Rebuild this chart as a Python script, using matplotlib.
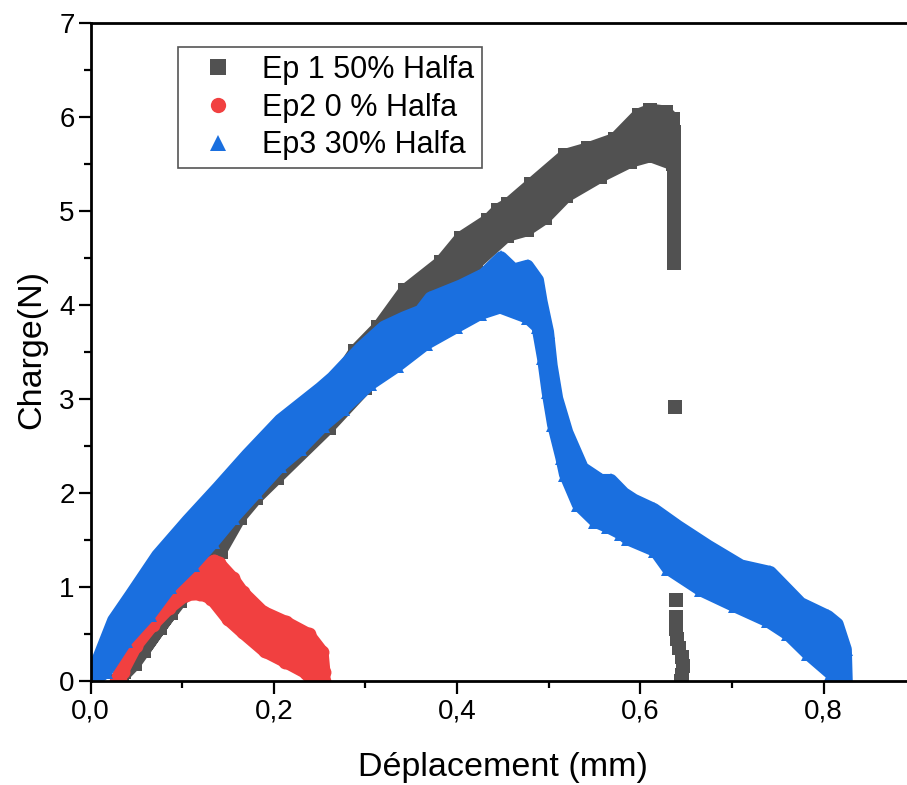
import numpy as np
import matplotlib
matplotlib.use("Agg")
import matplotlib.pyplot as plt
from matplotlib.ticker import MultipleLocator, FuncFormatter
from matplotlib.lines import Line2D

plt.rcParams['font.family'] = ['Liberation Sans', 'DejaVu Sans']

# Ep 1 50% Halfa: upper / lower edge of the dense measurement band
ep1_up_x = [0.030, 0.048, 0.088, 0.128, 0.168, 0.194, 0.230, 0.262, 0.289, 0.314, 0.343, 0.382,
            0.404, 0.434, 0.445, 0.456, 0.481, 0.518, 0.543, 0.572, 0.598, 0.611, 0.628, 0.636]
ep1_up_y = [0.00, 0.18, 0.73, 1.33, 1.98, 2.50, 2.88, 3.12, 3.52, 3.77, 4.16, 4.46,
            4.72, 4.91, 5.02, 5.08, 5.29, 5.60, 5.67, 5.77, 6.03, 6.08, 6.06, 5.98]
ep1_lo_x = [0.034, 0.036, 0.058, 0.076, 0.098, 0.142, 0.163, 0.181, 0.203, 0.260, 0.300, 0.350,
            0.390, 0.421, 0.454, 0.476, 0.496, 0.519, 0.556, 0.589, 0.611, 0.636]
ep1_lo_y = [0.00, 0.10, 0.32, 0.57, 0.85, 1.38, 1.74, 1.95, 2.16, 2.70, 3.12, 3.62,
            4.04, 4.45, 4.74, 4.80, 4.93, 5.16, 5.37, 5.53, 5.59, 5.50]
# Ep 1 after rupture
ep1_tail_x = [0.637, 0.637, 0.637, 0.637, 0.637, 0.637, 0.637, 0.637, 0.637, 0.637, 0.637, 0.637,
              0.638, 0.639, 0.639, 0.639, 0.640, 0.642, 0.645, 0.647, 0.646, 0.644]
ep1_tail_y = [5.85, 5.72, 5.59, 5.46, 5.33, 5.20, 5.07, 4.94, 4.81, 4.68, 4.55, 4.45,
              2.92, 0.87, 0.68, 0.56, 0.45, 0.35, 0.26, 0.16, 0.07, 0.00]

# Ep2 0 % Halfa
ep2_up_x = [0.028, 0.036, 0.048, 0.064, 0.082, 0.100, 0.116, 0.128, 0.135, 0.140, 0.155, 0.166,
            0.188, 0.213, 0.238, 0.253, 0.255, 0.255]
ep2_up_y = [0.00, 0.20, 0.48, 0.70, 0.88, 1.02, 1.15, 1.25, 1.28, 1.26, 1.10, 0.95,
            0.74, 0.63, 0.50, 0.31, 0.10, 0.00]
ep2_lo_x = [0.032, 0.035, 0.050, 0.068, 0.086, 0.104, 0.120, 0.132, 0.150, 0.166, 0.190, 0.212,
            0.235, 0.242]
ep2_lo_y = [0.00, 0.10, 0.38, 0.60, 0.78, 0.92, 0.93, 0.88, 0.66, 0.52, 0.32, 0.21,
            0.09, 0.00]

# Ep3 30% Halfa
ep3_up_x = [0.003, 0.008, 0.025, 0.044, 0.073, 0.106, 0.139, 0.171, 0.207, 0.251, 0.264, 0.295,
            0.320, 0.342, 0.360, 0.371, 0.404, 0.429, 0.448, 0.462, 0.477, 0.488, 0.492, 0.499,
            0.503, 0.509, 0.520, 0.537, 0.557, 0.568, 0.582, 0.593, 0.615, 0.641, 0.674, 0.710,
            0.742, 0.775, 0.805, 0.815, 0.824, 0.825]
ep3_up_y = [0.18, 0.23, 0.65, 0.92, 1.34, 1.71, 2.06, 2.41, 2.78, 3.12, 3.23, 3.55,
            3.77, 3.87, 3.94, 4.08, 4.21, 4.33, 4.51, 4.38, 4.42, 4.27, 4.04, 3.72,
            3.36, 3.01, 2.65, 2.27, 2.14, 2.14, 2.00, 1.93, 1.83, 1.65, 1.44, 1.23,
            1.16, 0.83, 0.69, 0.61, 0.34, 0.00]
ep3_lo_x = [0.003, 0.017, 0.039, 0.065, 0.087, 0.112, 0.134, 0.156, 0.181, 0.207, 0.229, 0.254,
            0.276, 0.305, 0.334, 0.366, 0.399, 0.425, 0.447, 0.477, 0.488, 0.494, 0.499, 0.505,
            0.514, 0.518, 0.532, 0.551, 0.565, 0.579, 0.587, 0.616, 0.630, 0.666, 0.703, 0.739,
            0.761, 0.783, 0.808, 0.812]
ep3_lo_y = [0.00, 0.10, 0.43, 0.71, 1.00, 1.24, 1.48, 1.74, 2.01, 2.29, 2.47, 2.72,
            2.90, 3.16, 3.35, 3.59, 3.77, 3.91, 3.98, 3.87, 3.77, 3.44, 3.08, 2.73,
            2.38, 2.20, 1.88, 1.70, 1.64, 1.57, 1.51, 1.39, 1.20, 0.97, 0.80, 0.64,
            0.50, 0.29, 0.08, 0.00]

labels = ["Ep 1 50% Halfa", "Ep2 0 % Halfa", "Ep3 30% Halfa"]
colors = ["#515151", "#F14040", "#1A6FDF"]
markers = ["s", "o", "^"]

x_ticks = [0.0, 0.2, 0.4, 0.6, 0.8]
y_ticks = [0, 1, 2, 3, 4, 5, 6, 7]

fig = plt.figure(figsize=(9.07, 7.85), dpi=100)
ax = fig.add_axes([0.0998, 0.1321, 0.9002, 0.8380])

MS = 10


def band(ux, uy, lx, ly, color, marker, z):
    ux, uy, lx, ly = map(np.asarray, (ux, uy, lx, ly))
    px = np.concatenate([ux, lx[::-1]])
    py = np.concatenate([uy, ly[::-1]])
    ax.fill(px, py, facecolor=color, edgecolor=color, linewidth=9,
            joinstyle='round', zorder=z)
    for xs, ys in ((ux, uy), (lx, ly)):
        ax.plot(xs, ys, ls='none', marker=marker, ms=MS, color=color,
                mew=0, zorder=z)


band(ep1_up_x, ep1_up_y, ep1_lo_x, ep1_lo_y, colors[0], markers[0], 2)
ax.plot(ep1_tail_x, ep1_tail_y, ls='none', marker=markers[0], ms=MS,
        color=colors[0], mew=0, zorder=2)
band(ep2_up_x, ep2_up_y, ep2_lo_x, ep2_lo_y, colors[1], markers[1], 3)
band(ep3_up_x, ep3_up_y, ep3_lo_x, ep3_lo_y, colors[2], markers[2], 4)

ax.set_xlim(0, 0.891)
ax.set_ylim(0, 7)

ax.set_xticks(x_ticks)
ax.set_yticks(y_ticks)
ax.xaxis.set_minor_locator(MultipleLocator(0.1))
ax.yaxis.set_minor_locator(MultipleLocator(0.5))
ax.xaxis.set_major_formatter(FuncFormatter(lambda v, p: f"{v:.1f}".replace(".", ",")))
ax.yaxis.set_major_formatter(FuncFormatter(lambda v, p: f"{v:.0f}"))

ax.tick_params(which='both', direction='out', width=1.6, labelsize=20, color='black')
ax.tick_params(which='major', length=9)
ax.tick_params(which='minor', length=5)
ax.tick_params(axis='x', pad=3.5)
ax.tick_params(axis='y', pad=2.5)
ax.tick_params(top=False, right=False)

for side in ('left', 'bottom', 'top'):
    ax.spines[side].set_linewidth(2.0)
    ax.spines[side].set_color('black')
    ax.spines[side].set_zorder(6)
ax.spines['right'].set_visible(False)

ax.set_xlabel("Déplacement (mm)", fontsize=24.5)
ax.set_ylabel("Charge(N)", fontsize=24.5)
ax.xaxis.set_label_coords(0.505, -0.108)
ax.yaxis.set_label_coords(-0.053, 0.505)

handles = [Line2D([], [], ls='none', marker=m, ms=11, color=c, mew=0)
           for m, c in zip(markers, colors)]
leg = ax.legend(handles, labels, loc='upper left', bbox_to_anchor=(0.1075, 0.9638),
                borderaxespad=0, fontsize=22, frameon=True, fancybox=False,
                edgecolor='#555555', framealpha=1, handlelength=2.1,
                handletextpad=0.4, borderpad=0.25, labelspacing=0.25)
leg.get_frame().set_linewidth(1.2)
leg.set_zorder(10)

fig.savefig("out.png", dpi=100)
